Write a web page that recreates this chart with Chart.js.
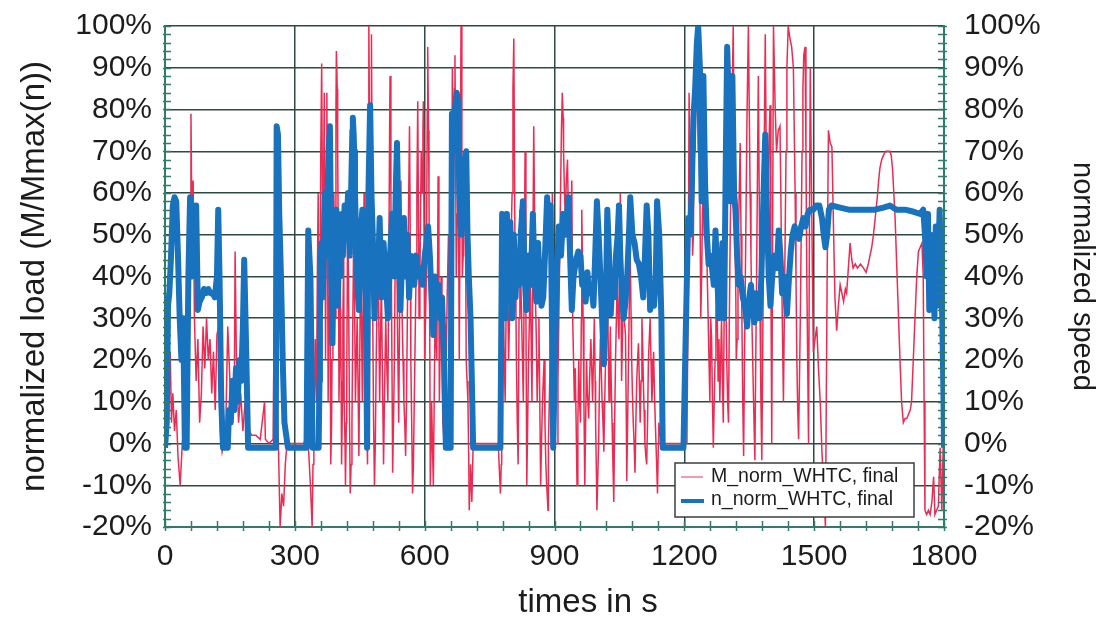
<!DOCTYPE html>
<html>
<head>
<meta charset="utf-8">
<script src="https://cdn.jsdelivr.net/npm/chart.js@4/dist/chart.umd.min.js"></script>
<style>
  body { margin: 0; background: #fff; }
  #whtc { display: block; }
</style>
</head>
<body>
<canvas id="whtc" width="1096" height="617"></canvas>
<script>
// axis ticks
const timeTicks = [0, 300, 600, 900, 1200, 1500, 1800];
const percentTicks = [-20, -10, 0, 10, 20, 30, 40, 50, 60, 70, 80, 90, 100];

// M_norm_WHTC, final  -> [time s, load %]
const loadPoints = [
  [0,0],[3,25],[6,28],[9,18],[12,22],[15,5],[18,12],[22,3],[26,8],[30,-3],[35,-10],[40,0],[45,5],[50,20],[55,25],
  [58,45],[60,79],[62,55],[65,63],[68,30],[72,15],[76,25],[80,5],[84,12],[88,28],[92,18],[96,30],[100,20],[104,25],
  [108,12],[112,22],[116,8],[120,26],[124,28],[128,3],[132,-2],[136,0],[140,2],[145,28],[150,15],[155,5],[160,10],
  [162,46],[165,20],[170,5],[175,12],[180,3],[185,10],[190,2],[195,3],[200,2],[210,2],[220,1],[230,10],[232,1],
  [240,0],[250,1],[254,53],[256,30],[258,10],[262,0],[266,-20],[270,-12],[274,-15],[278,-5],[282,0],[290,0],[300,0],
  [305,0],[320,0],[330,2],[336,-10],
  [340,-20],[342,-5],[344,0],[347,25],[350,10],[352,40],[354,60],[356,20],[358,30],[360,70],[362,91],[364,55],[365,40],
  [367,70],[368,84],[370,50],[371,20],[373,60],[374,84],[376,40],[377,10],[379,35],[380,60],[382,20],[383,-5],[385,5],
  [386,20],[388,45],[390,60],[392,50],[393,30],[395,80],[396,94],[398,85],[399,70],[401,40],[402,10],[404,25],[405,40],
  [407,15],[408,-5],[410,10],[411,30],[413,45],[414,10],[416,0],[417,-10],[419,5],[420,15],[422,55],[424,40],[426,10],
  [428,-12],[430,-5],[432,5],[434,30],[436,50],[438,35],[440,10],[442,20],[444,30],[446,15],[448,-3],[450,20],[452,45],
  [454,30],[456,10],[458,35],[460,60],[462,45],[464,20],[466,5],[468,-5],[470,60],[471,100],[473,70],[474,40],[476,80],
  [477,98],[479,60],[480,30],[482,5],[484,-10],[486,0],[488,20],[490,35],[492,50],[494,30],[496,10],[498,25],[500,40],
  [502,20],[505,-5],[507,10],[510,30],[512,20],[515,10],[517,40],[519,75],[520,88],[522,60],[523,40],[525,10],[526,-7],
  [528,5],[530,20],[532,45],[535,60],[537,30],[540,5],[542,30],[545,63],[547,45],[548,30],[550,20],[552,10],[554,5],
  [556,-3],[558,10],[560,30],[562,50],[565,76],[567,45],[568,20],[570,5],[572,-12],[574,-5],[576,10],[578,25],[580,40],
  [582,60],[584,82],[586,50],[587,30],[589,40],[590,50],[592,70],[594,60],[596,75],[597,82],[599,40],[600,20],[602,30],
  [604,40],[606,80],[607,95],[609,75],[610,60],[612,20],[613,-10],[615,0],[616,10],[618,0],[620,-10],[622,10],[624,30],
  [626,25],[628,20],[630,45],[631,64],[633,30],[634,10],[636,25],[638,40],[640,20],[642,5],[644,2],[646,0],[648,10],
  [650,20],[652,35],[655,50],[657,30],[660,10],[662,50],[664,90],[666,75],[667,60],[669,85],[670,93],[672,60],[673,40],
  [675,55],[677,70],[679,40],[680,20],[682,60],[684,100],[686,60],[687,40],[689,45],[690,50],[692,60],[693,70],[695,40],
  [696,20],[698,15],[700,10],[702,-5],[703,-16],[705,-10],[706,-5],[708,-10],[709,-14],[711,-5],[712,0],[740,0],[770,0],
  [775,-12],[777,-5],[778,2],[780,15],[782,30],[784,20],[786,10],[788,30],[790,50],[792,35],[794,20],[796,30],[798,40],
  [800,50],[802,60],[804,85],[806,97],[808,60],[809,40],[811,30],[812,20],[814,5],[816,-5],[818,30],[820,56],[822,40],
  [824,30],[826,20],[828,10],[830,40],[832,70],[834,30],[836,-10],[838,5],[840,20],[842,30],[844,40],[846,25],[848,10],
  [850,45],[852,76],[854,55],[855,40],[858,25],[860,10],[862,20],[864,30],[866,10],[868,-10],[870,0],[872,9],[874,15],
  [876,20],[878,5],[880,-5],[882,-10],[885,-16],[886,0],[888,10],[890,20],[892,30],[894,45],[895,60],[897,40],[898,20],
  [900,10],[902,0],[906,0],[908,15],[910,30],[912,45],[914,60],[916,75],[918,84],[920,78],[921,70],[923,60],[925,54],
  [927,62],[930,68],[932,55],[935,40],[937,50],[940,63],[941,45],[942,30],[944,20],[946,10],[948,18],[950,5],[952,-10],
  [954,5],[956,20],[958,10],[960,5],[962,30],[963,56],[965,40],[966,30],[968,10],[970,-10],[972,5],[974,20],[976,12],
  [979,6],[981,15],[984,25],[986,18],[988,10],[990,20],[992,30],[994,15],[995,5],[997,-8],[998,-16],[1000,-8],[1002,0],
  [1004,15],[1006,25],[1008,18],[1010,10],[1012,5],[1014,-2],[1016,10],[1018,20],[1020,30],[1022,40],[1024,25],[1026,10],
  [1028,20],[1029,28],[1031,15],[1033,5],[1035,-5],[1037,-14],[1039,5],[1041,20],[1043,30],[1045,40],[1047,30],[1049,25],
  [1051,45],[1052,60],[1054,30],[1055,15],[1057,25],[1059,40],[1061,30],[1064,26],[1066,5],[1067,-9],[1069,5],[1071,20],
  [1073,35],[1075,45],[1077,30],[1078,22],[1080,12],[1082,5],[1084,0],[1086,-7],[1088,5],[1090,15],[1092,20],[1094,24],
  [1096,15],[1098,5],[1100,15],[1102,30],[1104,22],[1105,16],[1107,8],[1109,0],[1111,-3],[1113,-5],[1115,5],[1117,20],
  [1119,25],[1121,30],[1123,20],[1125,10],[1127,15],[1129,22],[1131,12],[1133,5],[1136,-5],[1138,-12],[1140,0],[1141,5],
  [1144,2],[1150,0],[1170,0],[1206,0],[1209,40],[1211,84],[1214,60],[1217,75],[1219,45],[1221,50],[1223,80],[1225,70],
  [1227,85],[1229,93],[1232,70],[1234,75],[1236,60],[1238,30],[1240,40],[1242,55],[1244,65],[1246,50],[1248,71],[1250,60],
  [1252,45],[1255,30],[1257,20],[1259,10],[1261,30],[1263,25],[1265,10],[1267,-1],[1269,10],[1271,20],[1273,30],[1275,40],
  [1278,15],[1280,25],[1282,10],[1284,20],[1286,30],[1288,15],[1290,5],[1292,30],[1294,48],[1296,35],[1298,20],[1300,10],
  [1302,5],[1304,30],[1306,50],[1308,65],[1310,80],[1313,100],[1315,70],[1317,50],[1319,35],[1320,20],[1322,25],[1324,40],
  [1326,55],[1329,72],[1331,50],[1333,30],[1335,10],[1337,-3],[1339,20],[1341,40],[1343,60],[1345,80],[1348,100],[1350,80],
  [1352,60],[1354,45],[1356,30],[1358,20],[1360,10],[1363,-4],[1365,20],[1367,40],[1369,65],[1371,88],[1373,60],[1375,30],
  [1377,10],[1379,-4],[1381,20],[1383,50],[1385,75],[1387,98],[1390,60],[1392,40],[1395,70],[1398,81],[1400,40],[1402,0],
  [1404,50],[1406,100],[1408,90],[1410,80],[1413,70],[1417,75],[1421,76],[1423,60],[1425,40],[1427,25],[1429,10],[1431,30],
  [1433,50],[1435,70],[1437,90],[1440,100],[1444,97],[1448,95],[1452,90],[1454,75],[1456,60],[1458,40],[1460,20],[1462,8],
  [1464,1],[1466,15],[1468,30],[1470,50],[1472,70],[1474,85],[1476,93],[1479,95],[1481,70],[1483,40],[1485,20],[1487,0],
  [1489,50],[1491,90],[1494,60],[1496,40],[1498,22],[1502,25],[1506,28],[1510,18],[1514,10],[1518,-2],[1522,-10],[1526,-20],
  [1530,40],[1533,75],[1537,72],[1541,71],[1545,50],[1548,35],[1552,27],[1556,33],[1560,38],[1564,36],[1568,34],[1572,37],
  [1575,36],[1579,42],[1583,48],[1587,44],[1590,42],[1595,43],[1600,42],[1607,43],[1614,42],[1620,41],[1625,43],[1629,45],
  [1633,47],[1637,50],[1641,54],[1645,58],[1649,63],[1652,66],[1656,68],[1660,69],[1665,70],[1670,70],[1675,70],[1678,69],
  [1681,66],[1684,60],[1687,54],[1691,42],[1695,30],[1699,18],[1702,10],[1706,5],[1710,6],[1714,6],[1718,7],[1722,8],
  [1725,10],[1729,20],[1733,30],[1737,40],[1741,46],[1745,47],[1749,48],[1752,40],[1754,10],[1756,-16],[1760,-17],
  [1764,-16],[1768,-17],[1772,-14],[1776,-8],[1779,-17],[1783,-16],[1787,-15],[1791,-1],[1795,-16],[1798,-1],[1800,0]
];

// n_norm_WHTC, final  -> [time s, speed %]
const speedPoints = [
  [0,-1],[4,5],[7,33],[10,36],[14,45],[18,57],[22,59],[26,58],[30,45],[34,30],[38,20],[42,30],[46,-1],[50,-1],[54,40],
  [58,59],[62,40],[66,57],[70,50],[72,57],[76,32],[80,34],[85,35],[90,37],[95,36],[100,37],[105,36],[110,36],[115,35],
  [120,40],[123,56],[126,40],[130,10],[134,-1],[145,-1],[148,8],[152,5],[156,15],[160,8],[164,18],[168,10],[172,20],
  [176,15],[180,28],[183,44],[186,30],[190,10],[192,-1],[256,-1],[258,76],[261,74],[264,55],[268,40],[272,20],[276,5],
  [284,-1],[327,-1],[331,51],[336,40],[341,-1],[355,-1],[357,15],[358,30],[360,45],[362,48],[364,35],[366,40],[368,55],
  [370,60],[372,45],[374,50],[376,62],[378,70],[380,74],[381,76],[383,55],[384,40],[386,30],[387,24],[389,40],[390,55],
  [392,48],[393,40],[395,50],[396,56],[398,45],[399,33],[401,42],[402,50],[404,45],[405,40],[407,50],[408,55],[410,50],
  [411,45],[413,52],[415,57],[417,52],[419,50],[421,55],[423,60],[425,52],[427,45],[429,55],[431,65],[433,75],[434,78],
  [436,74],[437,70],[439,60],[440,56],[442,48],[444,40],[446,35],[448,32],[450,42],[452,50],[454,53],[456,56],[458,50],
  [460,45],[462,40],[464,35],[466,10],[467,-1],[470,60],
  [474,81],[477,60],[480,50],[484,30],[488,45],[492,40],[496,54],[500,35],[505,48],[510,40],[515,30],[520,45],[525,55],
  [530,40],[533,60],[536,72],[540,50],[544,32],[548,45],[552,54],[556,40],[560,50],[564,35],[568,45],[572,42],[576,38],
  [580,45],[585,40],[590,42],[595,38],[600,45],[604,48],[608,52],[612,45],[616,35],[620,26],[624,40],[628,35],[632,38],
  [636,30],[640,35],[645,20],[649,-1],[660,-1],[663,79],[667,70],[670,80],[674,84],[677,82],[680,60],[684,50],[688,55],
  [692,68],[696,70],[699,50],[702,40],[706,30],[710,10],[712,-1],[775,-1],[779,55],[783,45],[787,30],[790,55],[794,40],
  [798,53],[802,30],[806,50],[810,35],[814,45],[818,38],[822,50],[827,58],[831,40],[835,32],[840,45],[845,38],[850,55],
  [854,40],[858,34],[862,48],[866,38],[870,33],[874,35],[878,45],[883,59],[887,50],[891,57],[894,30],[897,-1],[901,20],
  [905,40],[910,52],[915,45],[920,55],[925,50],[932,59],[936,45],[940,32],[944,40],[950,44],[955,46],[960,45],[964,38],
  [968,40],[972,34],[976,41],[980,36],[985,38],[990,33],[994,45],[998,58],[1002,50],[1006,40],[1010,30],[1014,19],
  [1018,30],[1022,56],[1026,45],[1030,31],[1034,40],[1038,35],[1042,45],[1046,50],[1049,57],[1052,45],[1056,35],[1060,30],
  [1064,34],[1068,40],[1072,50],[1075,59],[1080,50],[1085,48],[1090,44],[1095,43],[1100,40],[1105,35],[1109,45],[1113,57],
  [1117,50],[1121,32],[1125,35],[1130,33],[1134,40],[1137,58],[1142,50],[1147,30],[1150,-1],[1198,-1],[1202,20],[1206,40],
  [1209,54],[1213,50],[1217,60],[1221,78],[1225,85],[1229,96],[1232,100],[1236,90],[1240,58],[1244,88],[1248,62],[1252,50],
  [1256,43],[1260,45],[1264,42],[1268,38],[1272,51],[1276,40],[1280,30],[1284,40],[1288,48],[1292,30],[1296,70],[1299,95],
  [1303,80],[1307,58],[1311,88],[1315,60],[1318,56],[1322,45],[1326,38],[1330,40],[1335,35],[1340,33],[1345,28],[1350,35],
  [1354,38],[1358,32],[1362,29],[1366,36],[1370,33],[1374,30],[1378,40],[1383,60],[1387,74],[1391,55],[1395,40],[1399,33],
  [1403,40],[1408,45],[1414,42],[1418,51],[1422,45],[1426,36],[1430,40],[1437,31],[1442,40],[1446,46],[1450,50],[1455,52],
  [1460,50],[1465,49],[1470,52],[1475,54],[1480,52],[1485,55],[1490,56],[1498,56],[1505,57],[1512,57],[1518,54],[1522,50],
  [1526,47],[1530,50],[1534,56],[1540,57],[1560,56.5],[1580,56],[1600,56],[1620,56],[1640,56],[1660,56.5],[1675,57],
  [1690,56],[1710,56],[1730,55.5],[1745,55],[1752,56],[1756,50],[1760,40],[1763,55],[1766,32],[1769,50],[1772,35],
  [1775,48],[1778,30],[1781,52],[1784,33],[1787,45],[1790,56],[1793,40],[1796,30],[1799,10],[1800,-1]
];

const gridColor = '#2e4a43';
const axisColor = '#2f7c6a';
const textColor = '#1c1c1c';
const loadColor = 'rgb(234,44,84)';
const speedColor = 'rgb(24,114,190)';
const fontFamily = '"Liberation Sans", Arial, sans-serif';

// small ticks along the three axes, x title and legend box in the plot
const decorations = {
  id: 'decorations',
  afterDraw(chart) {
    const { ctx } = chart;
    const x = chart.scales.x, y = chart.scales.y;
    const line = (x1, y1, x2, y2) => { ctx.beginPath(); ctx.moveTo(x1, y1); ctx.lineTo(x2, y2); ctx.stroke(); };
    ctx.save();
    ctx.strokeStyle = axisColor;
    ctx.lineWidth = 1.5;
    for (let v = -20; v <= 100; v += 2) {
      const py = Math.round(y.getPixelForValue(v)) + 0.5;
      line(x.left - 2, py, x.left + 6, py);
      line(x.right - 6, py, x.right + 3, py);
    }
    for (let t = 0; t <= 1800; t += 60) {
      const px = Math.round(x.getPixelForValue(t)) + 0.5;
      line(px, y.bottom - 6, px, y.bottom + 4);
    }

    ctx.fillStyle = textColor;
    ctx.font = '33px ' + fontFamily;
    ctx.textAlign = 'center';
    ctx.textBaseline = 'middle';
    ctx.fillText('times in s', 588, 603);

    // legend
    const lx = 675, ly = 463, lw = 239, lh = 54;
    ctx.fillStyle = '#fff';
    ctx.fillRect(lx, ly, lw, lh);
    ctx.strokeStyle = '#3a3f3d';
    ctx.lineWidth = 1.5;
    ctx.strokeRect(lx, ly, lw, lh);
    ctx.lineWidth = 1.5;
    ctx.strokeStyle = 'rgb(240,120,140)';
    line(681, 477, 703, 477);
    ctx.lineWidth = 4;
    ctx.strokeStyle = speedColor;
    line(681, 501, 704, 501);
    ctx.fillStyle = textColor;
    ctx.font = '19.5px ' + fontFamily;
    ctx.textAlign = 'left';
    ctx.fillText('M_norm_WHTC, final', 711, 477);
    ctx.fillText('n_norm_WHTC, final', 711, 500);
    ctx.restore();
  }
};

const toXY = pts => pts.map(p => ({ x: p[0], y: p[1] }));
const setTicks = list => scale => { scale.ticks = list.map(v => ({ value: v })); };

const percentAxis = (pos, title, width, pad, titleSize, titlePad) => ({
  type: 'linear',
  position: pos,
  min: -20,
  max: 100,
  afterBuildTicks: setTicks(percentTicks),
  afterFit: s => { s.width = width; s.paddingTop = 0; s.paddingBottom = 0; },
  ticks: {
    color: textColor,
    padding: pad,
    font: { family: fontFamily, size: 30 },
    callback: v => v + '%'
  },
  grid: {
    display: true,
    drawOnChartArea: pos === 'left',
    drawTicks: false,
    color: gridColor,
    lineWidth: 1.5
  },
  border: { color: axisColor, width: 2 },
  title: {
    display: true,
    text: title,
    color: textColor,
    font: { family: fontFamily, size: titleSize, lineHeight: 1 },
    padding: { top: titlePad, bottom: 0 }
  }
});

new Chart(document.getElementById('whtc'), {
  type: 'line',
  data: {
    datasets: [
      {
        label: 'M_norm_WHTC, final',
        data: toXY(loadPoints),
        borderColor: loadColor,
        borderWidth: 1.5,
        pointRadius: 0,
        yAxisID: 'y',
        order: 2
      },
      {
        label: 'n_norm_WHTC, final',
        data: toXY(speedPoints),
        borderColor: speedColor,
        borderWidth: 6,
        borderJoinStyle: 'round',
        pointRadius: 0,
        yAxisID: 'y2',
        order: 1
      }
    ]
  },
  options: {
    responsive: false,
    animation: false,
    events: [],
    layout: { padding: { top: 26, right: 0, bottom: 0, left: 0 } },
    plugins: { legend: { display: false }, tooltip: { enabled: false } },
    scales: {
      x: {
        type: 'linear',
        min: 0,
        max: 1800,
        afterBuildTicks: setTicks(timeTicks),
        afterFit: s => { s.height = 90; s.paddingLeft = 0; s.paddingRight = 0; },
        ticks: {
          color: textColor,
          padding: 12,
          maxRotation: 0,
          font: { family: fontFamily, size: 30 },
          callback: v => String(v)
        },
        grid: { color: gridColor, lineWidth: 1.5, drawTicks: false },
        border: { color: axisColor, width: 2 },
        title: { display: false }
      },
      y: percentAxis('left', 'normalized load (M/Mmax(n))', 165, 13, 33, 18),
      y2: percentAxis('right', 'normalized speed', 152, 20, 29, 0)
    }
  },
  plugins: [decorations]
});
</script>
</body>
</html>
